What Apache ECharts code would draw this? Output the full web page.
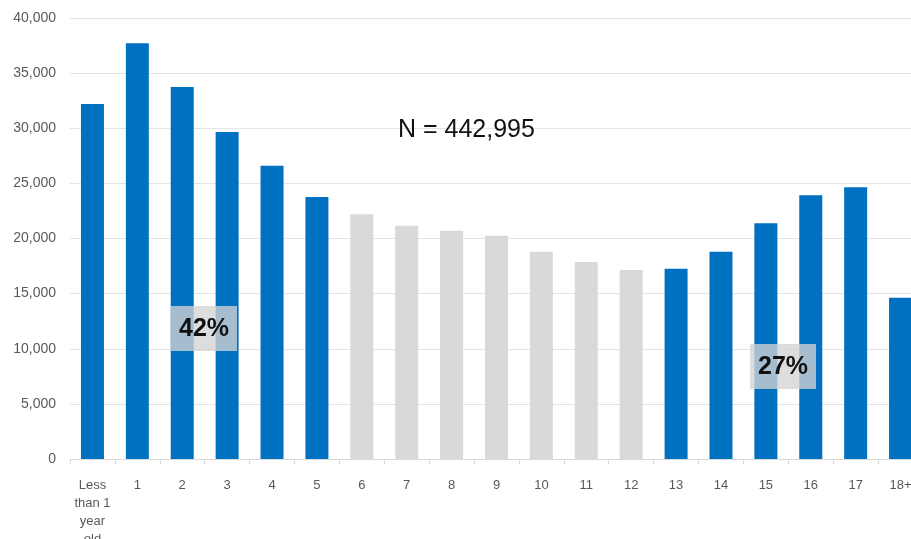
<!DOCTYPE html>
<html>
<head>
<meta charset="utf-8">
<script src="https://cdn.jsdelivr.net/npm/echarts@6/dist/echarts.min.js"></script>
<style>html,body{margin:0;padding:0;background:#fff}#c{width:911px;height:539px}</style>
</head>
<body>
<div id="c"></div>
<script>
const categories = ['Less\nthan 1\nyear\nold','1','2','3','4','5','6','7','8','9','10','11','12','13','14','15','16','17','18+'];
const values = [32200,37700,33750,29650,26600,23760,22200,21160,20700,20250,18800,17870,17140,17260,18800,21380,23920,24640,14630];
const highlighted = ['Less\nthan 1\nyear\nold','1','2','3','4','5','13','14','15','16','17','18+'];
const yTicks = [0,5000,10000,15000,20000,25000,30000,35000,40000];
const totalLabel = 'N = 442,995';
const groupLabels = ['42%','27%'];

const BLUE = '#0070C0', GRAY = '#D9D9D9';
const FONT = 'Liberation Sans';
const chart = echarts.init(document.getElementById('c'));
chart.setOption({
  animation: false,
  grid: { left: 70, top: 18, width: 853, height: 441, containLabel: false, outerBoundsMode: 'none' },
  xAxis: {
    type: 'category',
    data: categories,
    axisLine: { lineStyle: { color: '#D9D9D9' } },
    axisTick: { show: true, length: 5, lineStyle: { color: '#D9D9D9' } },
    axisLabel: { interval: 0, color: '#595959', fontFamily: FONT, fontSize: 13, lineHeight: 18, margin: 17 }
  },
  yAxis: {
    type: 'value',
    min: yTicks[0], max: yTicks[yTicks.length-1], interval: 5000,
    axisLine: { show: false }, axisTick: { show: false },
    splitLine: { lineStyle: { color: '#E4E4E4' } },
    axisLabel: { color: '#595959', fontFamily: FONT, fontSize: 14, margin: 14,
      formatter: v => v.toLocaleString('en-US') }
  },
  series: [{
    type: 'bar',
    barWidth: 23,
    data: values.map((v, i) => ({ value: v, itemStyle: { color: highlighted.includes(categories[i]) ? BLUE : GRAY } }))
  }],
  graphic: [
    { type: 'text', z: 100, left: 398, top: 118, style: { text: totalLabel, font: '25px "Liberation Sans"', fill: '#111' } },
    { type: 'group', z: 100, left: 171, top: 306, children: [
      { type: 'rect', z: 100, shape: { x: 0, y: 0, width: 66, height: 45 }, style: { fill: 'rgba(212,212,212,0.78)' } },
      { type: 'text', z: 101, style: { text: groupLabels[0], x: 33, y: 23, align: 'center', verticalAlign: 'middle', font: 'bold 25px "Liberation Sans"', fill: '#111' } }
    ]},
    { type: 'group', z: 100, left: 750, top: 344, children: [
      { type: 'rect', z: 100, shape: { x: 0, y: 0, width: 66, height: 45 }, style: { fill: 'rgba(212,212,212,0.78)' } },
      { type: 'text', z: 101, style: { text: groupLabels[1], x: 33, y: 23, align: 'center', verticalAlign: 'middle', font: 'bold 25px "Liberation Sans"', fill: '#111' } }
    ]}
  ]
});
</script>
</body>
</html>
